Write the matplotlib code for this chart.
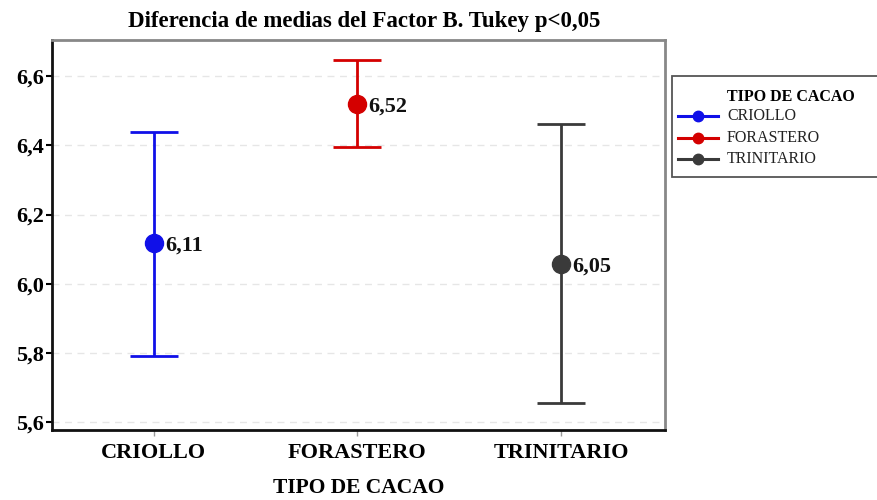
import matplotlib
matplotlib.use("Agg")
import matplotlib.pyplot as plt
from matplotlib.lines import Line2D
from matplotlib.patches import Rectangle

categories = ["CRIOLLO", "FORASTERO", "TRINITARIO"]
means = [6.117, 6.52, 6.057]
lower = [5.793, 6.395, 5.655]
upper = [6.439, 6.646, 6.462]
labels = ["6,11", "6,52", "6,05"]
colors = ["#1010e8", "#d40000", "#3a3a3a"]
yticks = [5.6, 5.8, 6.0, 6.2, 6.4, 6.6]
ytick_labels = ["5,6", "5,8", "6,0", "6,2", "6,4", "6,6"]
legend_title = "TIPO DE CACAO"

plt.rcParams["font.family"] = ["Liberation Serif", "DejaVu Serif"]

W, H = 878, 500
fig = plt.figure(figsize=(W/100, H/100), dpi=100)
ax = fig.add_axes([52/W, 70/H, 613/W, 390/H])

xs = list(range(1, len(categories) + 1))
for x, m, lo, hi, lab, c in zip(xs, means, lower, upper, labels, colors):
    ax.errorbar([x], [m], yerr=[[m - lo], [hi - m]], color=c, lw=2,
                capsize=17.5, capthick=2, marker="o", markersize=13, zorder=3)
    ax.annotate(lab, (x, m), xytext=(8, -2), textcoords="offset points",
                ha="left", va="center", fontsize=16, fontweight="bold", color="#111111")

ax.set_xlim(0.5, 3.51)
ax.set_ylim(5.578, 6.704)
ax.set_xticks(xs)
ax.set_xticklabels(categories, fontsize=16, fontweight="bold")
ax.set_yticks(yticks)
ax.set_yticklabels(ytick_labels, fontsize=16, fontweight="bold")
ax.yaxis.grid(True, ls=(0, (5, 4)), color="#e6e6e6", lw=1)
ax.set_axisbelow(True)
ax.tick_params(axis="y", length=4, width=1.5, color="black", pad=2)
ax.tick_params(axis="x", length=4, width=1, color="#999999", pad=5)
for s in ["left", "bottom"]:
    ax.spines[s].set_color("#111111")
    ax.spines[s].set_linewidth(2)
for s in ["top", "right"]:
    ax.spines[s].set_color("#888888")
    ax.spines[s].set_linewidth(2)
ax.set_xlabel("TIPO DE CACAO", fontsize=15.5, fontweight="bold", labelpad=11)
ax.set_title("Diferencia de medias del Factor B. Tukey p<0,05", fontsize=16.5,
             fontweight="bold", pad=9, x=0.509)

# legend drawn in figure pixel coordinates
def fx(px):
    return px / W

def fy(py):
    return 1 - py / H

fig.patches.append(Rectangle((fx(672), fy(177)), fx(880) - fx(672), fy(76) - fy(177),
                             transform=fig.transFigure, fill=True, facecolor="white",
                             edgecolor="#555555", lw=1.3, zorder=5))
fig.text(fx(727), fy(97), legend_title, fontsize=11.5, fontweight="bold",
         va="center", ha="left", zorder=6)
for i, (cat, c) in enumerate(zip(categories, colors)):
    yy = fy(116 + i * 21.5)
    fig.add_artist(Line2D([fx(678), fx(718)], [yy, yy], color=c, lw=2.2,
                          transform=fig.transFigure, zorder=6))
    fig.add_artist(Line2D([fx(698)], [yy], color=c, marker="o", markersize=7.5,
                          transform=fig.transFigure, zorder=7))
    fig.text(fx(727), yy, cat, fontsize=11.5, va="center", ha="left",
             color="#222222", zorder=6)

fig.savefig("out.png", dpi=100)
